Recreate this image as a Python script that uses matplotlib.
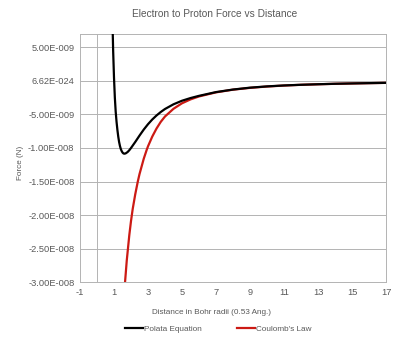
import numpy as np
import matplotlib.pyplot as plt

plt.rcParams['font.family'] = ['Liberation Sans', 'DejaVu Sans']
plt.rcParams['axes.unicode_minus'] = False

# distance in Bohr radii, force in newtons
polata_r = [0.90, 0.95, 1.00, 1.05, 1.10, 1.15, 1.20, 1.25, 1.30, 1.35, 1.40,
            1.45, 1.50, 1.55, 1.60, 1.65, 1.70, 1.80, 1.90, 2.00, 2.25, 2.50,
            2.75, 3.00, 3.25, 3.50, 3.75, 4.00, 4.50, 5.00, 5.50, 6.00, 7.00,
            8.00, 9.00, 10.0, 11.0, 12.0, 13.0, 14.0, 15.0, 16.0, 17.0]
polata_f = [1.0e-8, 4.5e-9, 5.0e-10, -2.5e-9, -4.6e-9, -6.1e-9, -7.3e-9,
            -8.3e-9, -9.1e-9, -9.7e-9, -1.015e-8, -1.045e-8, -1.067e-8,
            -1.08e-8, -1.085e-8, -1.083e-8, -1.078e-8, -1.06e-8, -1.033e-8,
            -1.0e-8, -9.1e-9, -8.15e-9, -7.25e-9, -6.45e-9, -5.75e-9,
            -5.15e-9, -4.63e-9, -4.18e-9, -3.48e-9, -2.95e-9, -2.55e-9,
            -2.22e-9, -1.66e-9, -1.28e-9, -1.0e-9, -8.1e-10, -6.7e-10,
            -5.7e-10, -4.9e-10, -4.2e-10, -3.7e-10, -3.25e-10, -2.8e-10]

coulomb_r = [1.60, 1.65, 1.75, 1.90, 2.00, 2.10, 2.25, 2.40, 2.50, 2.75, 2.92,
             3.00, 3.25, 3.50, 3.75, 4.00, 4.50, 5.00, 5.50, 6.00, 7.00, 8.00,
             9.00, 10.0, 11.0, 12.0, 13.0, 14.0, 15.0, 16.0, 17.0]
coulomb_f = [-3.2e-8, -3.0e-8, -2.68e-8, -2.3e-8, -2.09e-8, -1.91e-8,
             -1.69e-8, -1.5e-8, -1.39e-8, -1.16e-8, -1.03e-8, -9.75e-9,
             -8.3e-9, -7.1e-9, -6.1e-9, -5.3e-9, -4.15e-9, -3.33e-9,
             -2.75e-9, -2.31e-9, -1.7e-9, -1.3e-9, -1.03e-9, -8.3e-10,
             -6.85e-10, -5.75e-10, -4.95e-10, -4.25e-10, -3.7e-10, -3.25e-10,
             -2.85e-10]

x_ticks = [-1, 1, 3, 5, 7, 9, 11, 13, 15, 17]
y_ticks = [-3e-8, -2.5e-8, -2e-8, -1.5e-8, -1e-8, -5e-9, 0, 5e-9]
y_labels = ['-3.00E-008', '-2.50E-008', '-2.00E-008', '-1.50E-008',
            '-1.00E-008', '-5.00E-009', '6.62E-024', '5.00E-009']

txt = '#595959'
grid = '#b3b3b3'

fig = plt.figure(figsize=(4, 3.37), dpi=100)
ax = fig.add_axes([0.2, 0.163, 0.765, 0.736])

ax.plot(polata_r, polata_f, color='black', lw=1.6, label='Polata Equation',
        zorder=4)
ax.plot(coulomb_r, coulomb_f, color='#cc1a14', lw=1.6, label="Coulomb's Law",
        zorder=3)

ax.set_xlim(-1, 17)
ax.set_ylim(-3e-8, 7e-9)
ax.set_xticks(x_ticks)
ax.set_yticks(y_ticks)
ax.set_yticklabels(y_labels)
ax.tick_params(length=0, labelsize=6.7, labelcolor=txt, pad=4)
ax.yaxis.grid(True, color=grid, lw=0.7)
ax.axvline(0, color=grid, lw=0.7, zorder=1)
for s in ax.spines.values():
    s.set_color(grid)
    s.set_linewidth(0.7)

fig.text(215 / 400, 1 - 14 / 337, 'Electron to Proton Force vs Distance',
         fontsize=7.3, color=txt, ha='center', va='center')
fig.text(212 / 400, 1 - 312 / 337, 'Distance in Bohr radii (0.53 Ang.)',
         fontsize=5.9, color=txt, ha='center', va='center')
fig.text(20 / 400, 1 - 163 / 337, 'Force (N)', fontsize=5.9, color=txt,
         ha='center', va='center', rotation=90)

fig.legend(loc='center', bbox_to_anchor=(218 / 400, 1 - 329 / 337), ncol=2,
           frameon=False, fontsize=5.9, handlelength=2.2, handletextpad=0.1,
           columnspacing=4.3, labelcolor=txt)

fig.savefig('out.png', dpi=100)
